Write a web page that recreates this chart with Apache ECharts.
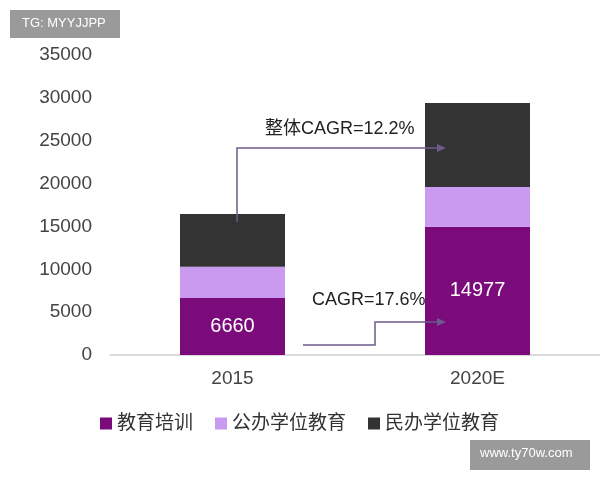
<!DOCTYPE html>
<html><head><meta charset="utf-8">
<script src="https://cdn.jsdelivr.net/npm/echarts@6/dist/echarts.min.js"></script>
<style>body{margin:0;background:#fff}#c{width:600px;height:480px}</style>
</head><body><div id="c"></div>
<script>
// 教育市场规模构成
const years = ['2015', '2020E']
const training = [6660, 14977]   // 教育培训
const publicEdu = [3640, 4620]   // 公办学位教育
const privateEdu = [6150, 9800]  // 民办学位教育
const yTicks = [0, 35000, 5000]

const font = '"Liberation Sans", Arial, sans-serif'
const cjk = '"Liberation Sans", "Noto Sans CJK SC", sans-serif'
const chart = echarts.init(document.getElementById('c'))
const arrowLine = (pts) => ({
    type: 'polyline', z: 100, shape: { points: pts },
    style: { stroke: '#6e5a8c', lineWidth: 1.5, fill: null }
})
const arrowHead = (x, y) => ({
    type: 'polygon', z: 100, shape: { points: [[x, y], [x - 9, y - 4], [x - 9, y + 4]] },
    style: { fill: '#6e5a8c' }
})
chart.setOption({
    animation: false,
    grid: { left: 110, width: 520, top: 55, bottom: 125 },
    legend: {
        bottom: 42, left: 95, itemWidth: 12, itemHeight: 12, itemGap: 22,
        icon: 'rect', textStyle: { fontSize: 19, color: '#333', fontFamily: cjk }
    },
    xAxis: {
        type: 'category', data: years,
        axisLine: { lineStyle: { color: '#d0d0d0', width: 1.5 } },
        axisTick: { show: false },
        axisLabel: { fontSize: 19, color: '#444', margin: 14, fontFamily: font }
    },
    yAxis: {
        type: 'value', min: yTicks[0], max: yTicks[1], interval: yTicks[2],
        splitLine: { show: false },
        axisLabel: { fontSize: 19, color: '#444', margin: 18, fontFamily: font, formatter: v => String(v) }
    },
    series: [
        {
            name: '教育培训', type: 'bar', stack: 'a', data: training, barWidth: 105,
            itemStyle: { color: '#7b0a7b' },
            label: { show: true, color: '#fff', fontSize: 20, fontFamily: font }
        },
        { name: '公办学位教育', type: 'bar', stack: 'a', data: publicEdu, itemStyle: { color: '#c99af0' } },
        { name: '民办学位教育', type: 'bar', stack: 'a', data: privateEdu, itemStyle: { color: '#333333' } }
    ],
    graphic: [
        arrowLine([[237, 222], [237, 148], [440, 148]]), arrowHead(446, 148),
        { type: 'text', z: 100, left: 265, top: 120, style: { text: '整体CAGR=12.2%', fontSize: 18, fill: '#222', fontFamily: cjk } },
        arrowLine([[303, 345], [375, 345], [375, 322], [440, 322]]), arrowHead(446, 322),
        { type: 'text', z: 100, left: 312, top: 291, style: { text: 'CAGR=17.6%', fontSize: 18, fill: '#222', fontFamily: font } },
        { type: 'rect', shape: { x: 10, y: 10, width: 110, height: 28 }, style: { fill: '#9a9a9a' } },
        { type: 'text', left: 22, top: 17, style: { text: 'TG: MYYJJPP', fontSize: 13, fill: '#fff', fontFamily: font } },
        { type: 'rect', shape: { x: 470, y: 440, width: 120, height: 30 }, style: { fill: '#9a9a9a' } },
        { type: 'text', left: 480, top: 447, style: { text: 'www.ty70w.com', fontSize: 13, fill: '#fff', fontFamily: font } }
    ]
})
</script></body></html>
